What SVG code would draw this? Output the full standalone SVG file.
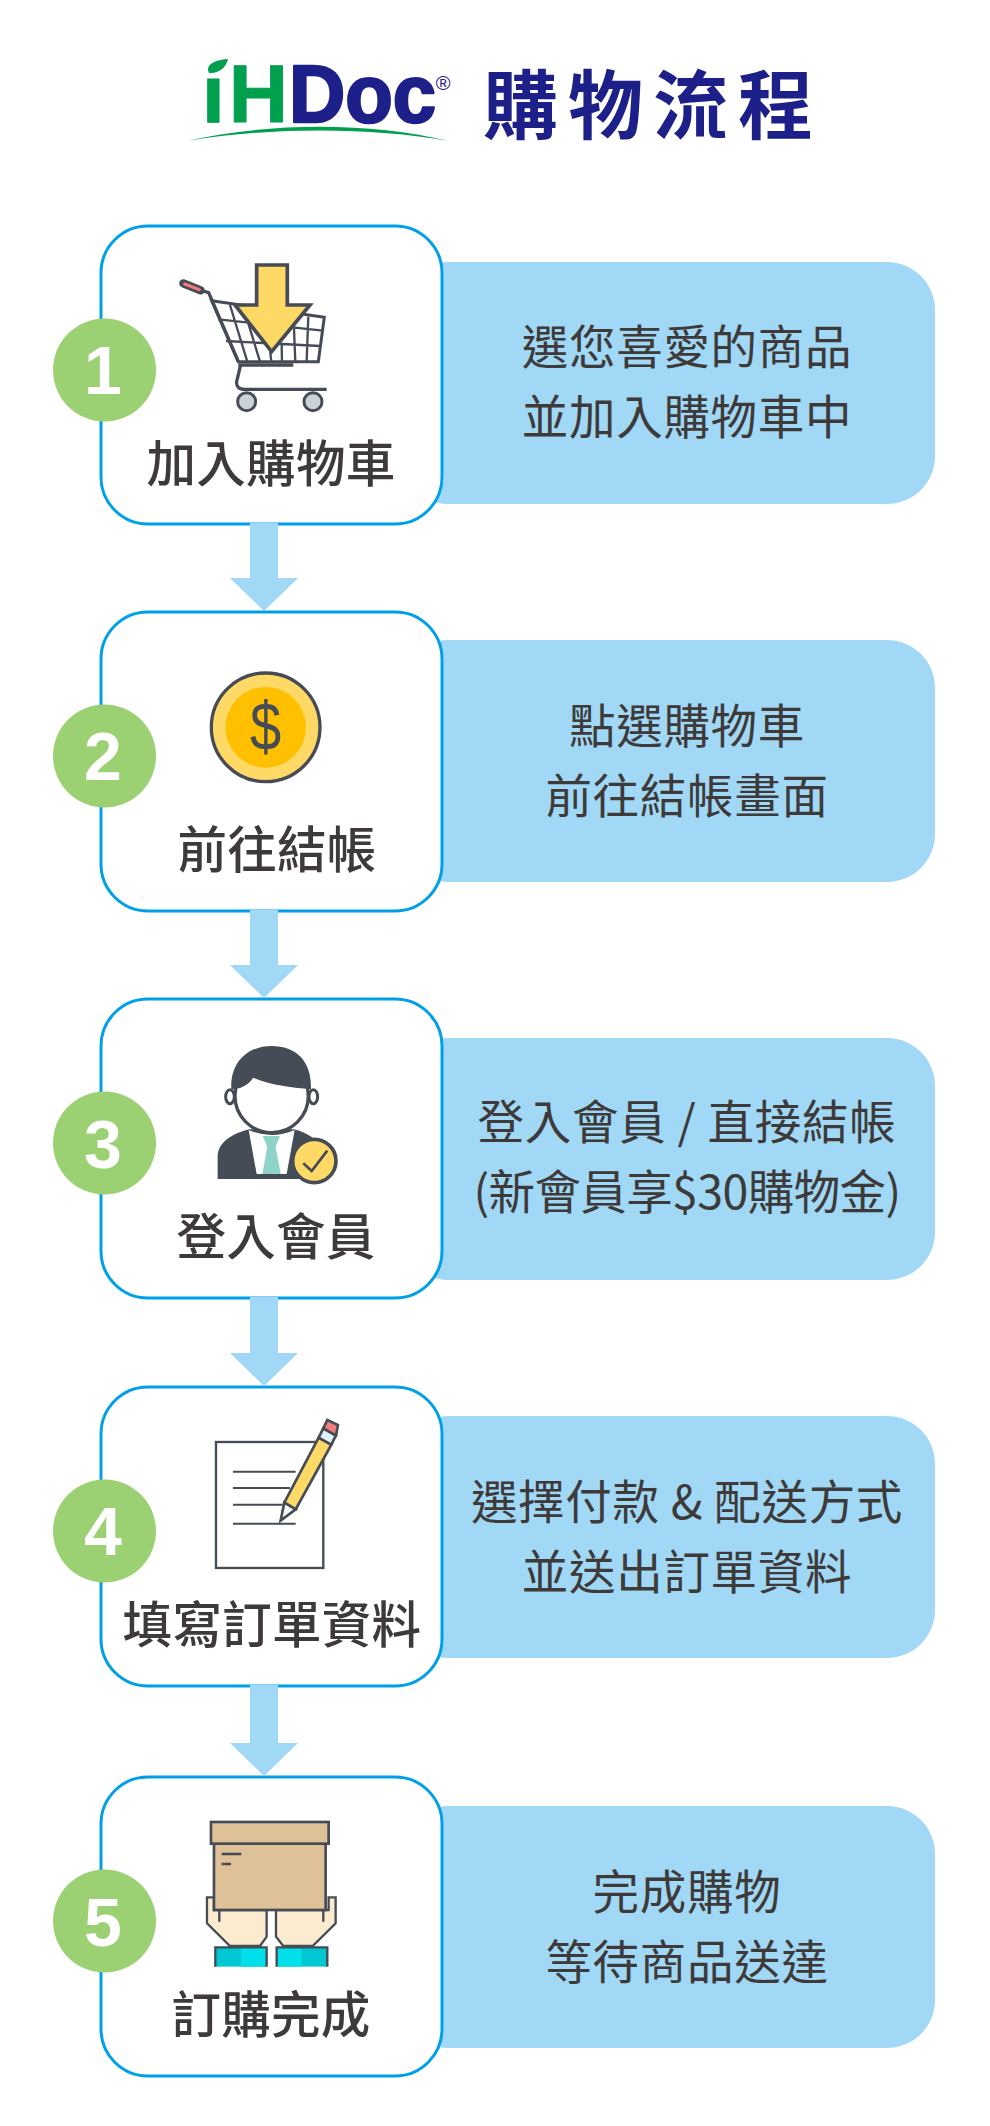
<svg xmlns="http://www.w3.org/2000/svg" width="990" height="2126" viewBox="0 0 990 2126">
<style>
text{font-family:"Noto Sans CJK TC","Noto Sans",sans-serif}
.panel{fill:#a0d8f6}
.box{fill:#fff;stroke:#00a0e9;stroke-width:3}
.badge{fill:#9bd172}
.num{font-family:"Liberation Sans",Arial,sans-serif;font-weight:700;font-size:68px;fill:#fff;text-anchor:middle}
.label{font-size:49.5px;font-weight:500;fill:#3e3a39;text-anchor:middle;letter-spacing:.3px}
.desc{font-size:46.5px;font-weight:400;fill:#3e3a39;text-anchor:middle;letter-spacing:.7px}
.arrow{fill:#a0d8f6}
.zoom{stroke:#464c55;fill:none}
.logo{font-family:"Liberation Sans",Arial,sans-serif;font-weight:700;font-size:82px;stroke-linejoin:round}
</style>
<rect width="990" height="2126" fill="#fff"/>

<g id="header">
  <text class="logo" x="202" y="122" fill="#00a04f" stroke="#00a04f" stroke-width="1" letter-spacing="4">iH</text>
  <text class="logo" transform="translate(289,122) scale(.95,1)" fill="#1d2088" stroke="#1d2088" stroke-width="2.5">Doc</text>
  <text x="443" y="90" font-size="20" fill="#1d2088" text-anchor="middle" style="font-family:'Liberation Sans',sans-serif">®</text>
  <rect x="204" y="58" width="28" height="18" fill="#fff"/>
  <path d="M209,73 C205,65 214,60 228,59 C226,68 218,74 209,73 Z" fill="#00a04f"/>
  <path d="M187,141 C270,122 370,122 449,141 C370,127 270,127 187,141 Z" fill="#00a04f"/>
  <text x="483" y="133" font-size="75" font-weight="700" fill="#1d2088" letter-spacing="10">購物流程</text>
</g>

<g id="step1">
  <rect class="panel" x="400" y="262" width="535" height="242" rx="48"/>
  <rect class="box" x="101" y="226" width="341" height="298" rx="47"/>
  <circle class="badge" cx="104.5" cy="370" r="51.5"/>
  <text class="num" x="103" y="394">1</text>
  <g transform="translate(40,210) scale(.3333)" class="zoom">
    <path d="M515,272 L853,322 L835,455 L595,455 Z" fill="#fff" stroke-width="9"/>
    <path d="M535,328 L848,362 M558,393 L840,408 M570,285 L622,455 M625,340 L660,455 M805,320 L800,455 M762,355 L766,455 M725,400 L726,455 M690,420 L694,455" stroke-width="7"/>
    <path d="M490,243 L506,248 L595,455" stroke-width="10"/>
    <path d="M430,220 L482,241" stroke-width="25" stroke-linecap="round"/>
    <path d="M434,222 L478,239" stroke="#f47c7c" stroke-width="9" stroke-linecap="round"/>
    <path d="M595,465 H760 M602,465 L590,515 Q588,538 615,538 H860" stroke-width="10"/>
    <circle cx="620" cy="575" r="27" fill="#ccd3d6" stroke-width="9"/>
    <circle cx="819" cy="575" r="27" fill="#ccd3d6" stroke-width="9"/>
    <path d="M650,165 H742 V285 H810 L695,425 L585,285 H650 Z" fill="#ffd966" stroke-width="11"/>
  </g>
  <text class="label" x="271" y="482">加入購物車</text>
  <text class="desc" x="687" y="364">選您喜愛的商品</text>
  <text class="desc" x="687" y="434">並加入購物車中</text>
</g>

<g id="step2">
  <rect class="panel" x="400" y="640" width="535" height="242" rx="48"/>
  <rect class="box" x="101" y="612" width="341" height="299" rx="47"/>
  <circle class="badge" cx="104.5" cy="756" r="51.5"/>
  <text class="num" x="103" y="780">2</text>
  <g transform="translate(40,600) scale(.3333)">
    <circle cx="677" cy="382" r="163" fill="#ffd966" stroke="#464c55" stroke-width="10"/>
    <circle cx="677" cy="382" r="121" fill="#ffc000"/>
    <text transform="translate(677,450) scale(.82,1)" font-size="205" fill="#464c55" text-anchor="middle" style="font-family:'Liberation Sans',sans-serif">$</text>
  </g>
  <text class="label" x="277" y="868">前往結帳</text>
  <text class="desc" x="687" y="743">點選購物車</text>
  <text class="desc" x="687" y="813">前往結帳畫面</text>
</g>

<g id="step3">
  <rect class="panel" x="400" y="1038" width="535" height="242" rx="48"/>
  <rect class="box" x="101" y="999" width="341" height="299" rx="47"/>
  <circle class="badge" cx="104.5" cy="1143" r="51.5"/>
  <text class="num" x="103" y="1168">3</text>
  <g transform="translate(40,990) scale(.3333)">
    <path d="M533,567 V500 C533,455 580,430 628,418 H762 C800,428 830,445 850,480 V567 Z" fill="#464c55"/>
    <path d="M626,420 Q695,450 764,420 L740,552 H650 Z" fill="#fff"/>
    <path d="M668,438 H720 L707,470 L722,552 H667 L682,470 Z" fill="#8fd3c8"/>
    <ellipse cx="570" cy="320" rx="13" ry="21" fill="#fff" stroke="#464c55" stroke-width="9"/>
    <ellipse cx="820" cy="320" rx="13" ry="21" fill="#fff" stroke="#464c55" stroke-width="9"/>
    <circle cx="695" cy="318" r="110" fill="#fff" stroke="#464c55" stroke-width="10"/>
    <path d="M574,298 C570,215 625,168 695,168 C770,168 816,215 813,298 C750,292 690,285 640,263 C625,285 600,298 574,298 Z" fill="#464c55"/>
    <circle cx="823" cy="513" r="65" fill="#ffd966" stroke="#464c55" stroke-width="11"/>
    <path d="M790,520 L815,543 L862,482" fill="none" stroke="#464c55" stroke-width="8"/>
  </g>
  <text class="label" x="276" y="1255">登入會員</text>
  <text class="desc" x="687" y="1139">登入會員 / 直接結帳</text>
  <text class="desc" x="687" y="1209" style="letter-spacing:-.6px">(新會員享$30購物金)</text>
</g>

<g id="step4">
  <rect class="panel" x="400" y="1416" width="535" height="242" rx="48"/>
  <rect class="box" x="101" y="1387" width="341" height="299" rx="47"/>
  <circle class="badge" cx="104.5" cy="1531" r="51.5"/>
  <text class="num" x="103" y="1555">4</text>
  <g transform="translate(40,1370) scale(.3333)" class="zoom">
    <rect x="528" y="216" width="322" height="378" fill="#fff" stroke-width="7"/>
    <path d="M579,305 H767 M579,354 H750 M579,404 H728 M579,461 H767" stroke-width="6"/>
    <path d="M733,398 L836,203 L874,224 L767,418 Z" fill="#ffd966" stroke-width="8"/>
    <path d="M733,398 L767,418 L722,452 Z" fill="#fff" stroke-width="8"/>
    <path d="M836,203 L850,175 L888,196 L874,224 Z" fill="#e0f2fa" stroke-width="8"/>
    <path d="M850,175 L862,150 L894,165 L888,196 Z" fill="#f47c7c" stroke-width="8"/>
  </g>
  <text class="label" x="272" y="1643">填寫訂單資料</text>
  <text class="desc" x="687" y="1519">選擇付款 &amp; 配送方式</text>
  <text class="desc" x="687" y="1589">並送出訂單資料</text>
</g>

<g id="step5">
  <rect class="panel" x="400" y="1806" width="535" height="242" rx="48"/>
  <rect class="box" x="101" y="1777" width="341" height="299" rx="47"/>
  <circle class="badge" cx="104.5" cy="1921" r="51.5"/>
  <text class="num" x="103" y="1946">5</text>
  <g transform="translate(40,1760) scale(.3333)" class="zoom">
    <path d="M501,412 H522 V450 H680 V530 L660,558 H570 L501,490 Z" fill="#fdebd0" stroke-width="7"/>
    <path d="M887,412 H866 V450 H708 V530 L730,558 H818 L887,490 Z" fill="#fdebd0" stroke-width="7"/>
    <path d="M538,450 V485 M850,450 V485" stroke-width="7"/>
    <rect x="526" y="563" width="154" height="57" fill="#00c8d2" stroke="none"/>
    <rect x="603" y="563" width="77" height="57" fill="#00e0ea" stroke="none"/>
    <rect x="710" y="563" width="152" height="57" fill="#00c8d2" stroke="none"/>
    <rect x="710" y="563" width="75" height="57" fill="#00e0ea" stroke="none"/>
    <path d="M526,620 V562 H680 V620 M710,620 V562 H862 V620" stroke-width="7"/>
    <rect x="522" y="251" width="335" height="199" fill="#dfc197" stroke-width="8"/>
    <rect x="513" y="186" width="353" height="65" fill="#dfc197" stroke-width="8"/>
    <path d="M545,282 H604 M545,312 H573" stroke-width="7"/>
  </g>
  <text class="label" x="271" y="2033">訂購完成</text>
  <text class="desc" x="687" y="1909">完成購物</text>
  <text class="desc" x="687" y="1979">等待商品送達</text>
</g>

<g id="connectors">
  <path class="arrow" d="M250,523 H278 V578 H298 L264,611 L230,578 H250 Z"/>
  <path class="arrow" d="M250,910 H278 V965 H298 L264,998 L230,965 H250 Z"/>
  <path class="arrow" d="M250,1297 H278 V1353 H298 L264,1386 L230,1353 H250 Z"/>
  <path class="arrow" d="M250,1685 H278 V1743 H298 L264,1776 L230,1743 H250 Z"/>
</g>
</svg>
